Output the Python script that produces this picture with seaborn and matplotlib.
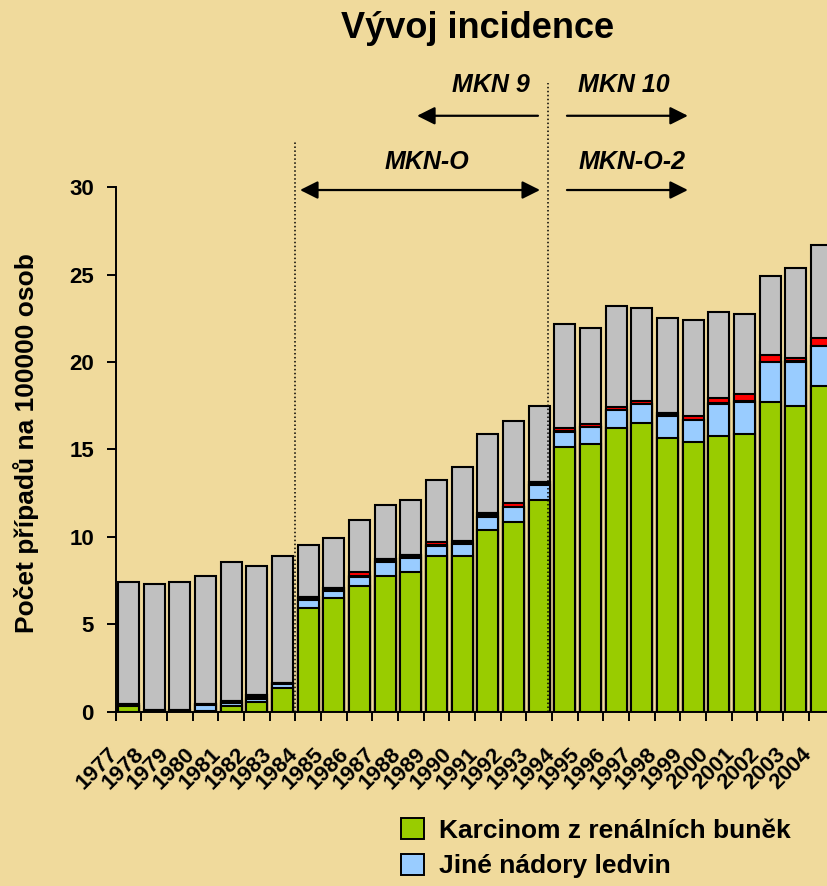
import numpy as np
import pandas as pd
import matplotlib
matplotlib.use("Agg")
import matplotlib.pyplot as plt
import matplotlib.transforms as mtransforms
from matplotlib.patches import Patch
import seaborn as sns

# ---- data ----
years = [1977, 1978, 1979, 1980, 1981, 1982, 1983, 1984, 1985, 1986,
         1987, 1988, 1989, 1990, 1991, 1992, 1993, 1994, 1995, 1996,
         1997, 1998, 1999, 2000, 2001, 2002, 2003, 2004]
green = [0.30, 0.00, 0.00, 0.05, 0.30, 0.56, 1.33, 5.94, 6.51, 7.17,
         7.76, 7.97, 8.88, 8.88, 10.39, 10.86, 12.10, 15.12, 15.31, 16.23,
         16.50, 15.67, 15.44, 15.77, 15.88, 17.70, 17.50, 18.65]
blue = [0.00, 0.00, 0.00, 0.35, 0.20, 0.18, 0.25, 0.42, 0.40, 0.55,
        0.82, 0.82, 0.62, 0.69, 0.76, 0.83, 0.87, 0.88, 0.96, 1.02,
        1.10, 1.24, 1.24, 1.85, 1.84, 2.30, 2.50, 2.25]
black = [0.15, 0.08, 0.08, 0.05, 0.08, 0.20, 0.05, 0.18, 0.18, 0.05,
         0.17, 0.18, 0.03, 0.17, 0.23, 0.03, 0.18, 0.03, 0.03, 0.03,
         0.03, 0.19, 0.03, 0.03, 0.03, 0.03, 0.05, 0.03]
red = [0.00, 0.00, 0.00, 0.00, 0.00, 0.00, 0.00, 0.00, 0.00, 0.20,
       0.00, 0.00, 0.20, 0.00, 0.00, 0.19, 0.00, 0.17, 0.15, 0.15,
       0.17, 0.00, 0.19, 0.32, 0.40, 0.40, 0.20, 0.46]
grey = [6.95, 7.23, 7.32, 7.33, 8.00, 7.41, 7.29, 2.97, 2.86, 3.00,
        3.05, 3.15, 3.52, 4.24, 4.52, 4.70, 4.35, 6.00, 5.52, 5.80,
        5.31, 5.44, 5.53, 4.91, 4.62, 4.49, 5.15, 5.29]

legend_labels = ["Karcinom z renálních buněk", "Jiné nádory ledvin"]
title = "Vývoj incidence"
ylabel = "Počet případů na 100000 osob"

colors = {"grey": "#C0C0C0", "red": "#FF0000", "black": "#000000",
          "blue": "#99CCFF", "green": "#99CC00"}
bg = "#F0DA9C"

# ---- cumulative layers (drawn from top to bottom) ----
g, b, k, r, gr = (np.array(a) for a in (green, blue, black, red, grey))
cum = {"grey": g + b + k + r + gr, "red": g + b + k + r,
       "black": g + b + k, "blue": g + b, "green": g}
order = ["grey", "red", "black", "blue", "green"]
rows = []
for layer in order:
    for yr, v in zip(years, cum[layer]):
        rows.append({"rok": str(yr), "kum": v, "vrstva": layer})
df = pd.DataFrame(rows)

sns.set_style("ticks")
plt.rcParams["font.family"] = ["Liberation Sans", "DejaVu Sans"]
plt.rcParams["font.weight"] = "bold"
plt.rcParams["text.color"] = "black"
plt.rcParams["axes.labelcolor"] = "black"
plt.rcParams["xtick.color"] = "black"
plt.rcParams["ytick.color"] = "black"

W, H = 827, 886
fig = plt.figure(figsize=(W / 100, H / 100), dpi=100, facecolor=bg)
x0, y0 = 115.7, 711.5
cw = 25.67
ppu = 17.47
ax = fig.add_axes([x0 / W, (H - y0) / H, 28 * cw / W, 30 * ppu / H])
ax.set_facecolor(bg)

sns.barplot(data=df, x="rok", y="kum", hue="vrstva", hue_order=order,
            order=[str(y) for y in years], palette=colors, dodge=False,
            width=0.82, edgecolor="black", linewidth=1.5, errorbar=None,
            legend=False, ax=ax, saturation=1)

ax.set_xlim(-0.5, 27.5)
ax.set_ylim(0, 30)
ax.set_yticks(range(0, 31, 5))
ax.set_xlabel("")
ax.set_ylabel("")
for s in ("top", "right"):
    ax.spines[s].set_visible(False)
for s in ("left", "bottom"):
    ax.spines[s].set_linewidth(1.4)
    ax.spines[s].set_color("black")

ax.tick_params(axis="y", length=6.2, width=1.4, direction="out",
               labelsize=16, pad=9.5, colors="black")
ax.set_xticks(np.arange(-0.5, 28.0, 1.0), minor=True)
ax.tick_params(axis="x", which="minor", length=6.5, width=1.4,
               direction="out", color="black")
ax.tick_params(axis="x", which="major", length=0, pad=0, labelsize=16,
               labelcolor="black")
offset = mtransforms.ScaledTranslation(-0.21, -0.32, fig.dpi_scale_trans)
for lab in ax.get_xticklabels():
    lab.set_rotation(45)
    lab.set_ha("right")
    lab.set_va("top")
    lab.set_rotation_mode("anchor")
    lab.set_fontweight("bold")
    lab.set_color("black")
    lab.set_transform(lab.get_transform() + offset)
for lab in ax.get_yticklabels():
    lab.set_fontweight("bold")
    lab.set_color("black")

# ---- vertical dotted separators ----
ax.plot([6.47, 6.47], [0, 32.6], ls=(0, (1, 1.6)), lw=1.1, color="black",
        clip_on=False, zorder=5)
ax.plot([16.35, 16.35], [0, 35.97], ls=(0, (1, 1.6)), lw=1.1,
        color="black", clip_on=False, zorder=5)

# ---- arrows & labels ----
ap = dict(arrowstyle="-|>", color="black", lw=1.6, mutation_scale=27,
          shrinkA=0, shrinkB=0)
ap2 = dict(ap, arrowstyle="<|-|>")
ax.annotate("", xy=(11.24, 34.1), xytext=(15.95, 34.1), arrowprops=ap,
            annotation_clip=False)
ax.annotate("", xy=(21.79, 34.1), xytext=(17.08, 34.1), arrowprops=ap,
            annotation_clip=False)
ax.annotate("", xy=(6.68, 29.85), xytext=(16.03, 29.85), arrowprops=ap2,
            annotation_clip=False)
ax.annotate("", xy=(21.79, 29.85), xytext=(17.08, 29.85), arrowprops=ap,
            annotation_clip=False)
tk = dict(fontsize=18, fontweight="bold", fontstyle="italic", va="center",
          clip_on=False, color="black")
ax.text(15.64, 35.85, "MKN 9", ha="right", **tk)
ax.text(17.5, 35.85, "MKN 10", ha="left", **tk)
ax.text(11.63, 31.45, "MKN-O", ha="center", **tk)
ax.text(17.55, 31.45, "MKN-O-2", ha="left", **tk)

# ---- title, y label, legend ----
fig.text(478 / W, 1 - 29 / H, title, ha="center", va="center",
         fontsize=26, fontweight="bold", color="black")
fig.text(26 / W, 1 - 443.5 / H, ylabel, rotation=90, ha="center",
         va="center", fontsize=19, fontweight="bold", color="black")

handles = [Patch(facecolor=colors["green"], edgecolor="black", lw=1.4,
                 label=legend_labels[0]),
           Patch(facecolor=colors["blue"], edgecolor="black", lw=1.4,
                 label=legend_labels[1])]
leg = fig.legend(handles=handles, loc="upper left",
                 bbox_to_anchor=(401 / W, 1 - 818 / H), frameon=False,
                 fontsize=19, handlelength=0.88, handleheight=0.85,
                 handletextpad=0.55, labelspacing=0.42, borderpad=0,
                 borderaxespad=0)
for t in leg.get_texts():
    t.set_fontweight("bold")
    t.set_color("black")

fig.savefig("out.png", dpi=100, facecolor=bg)
